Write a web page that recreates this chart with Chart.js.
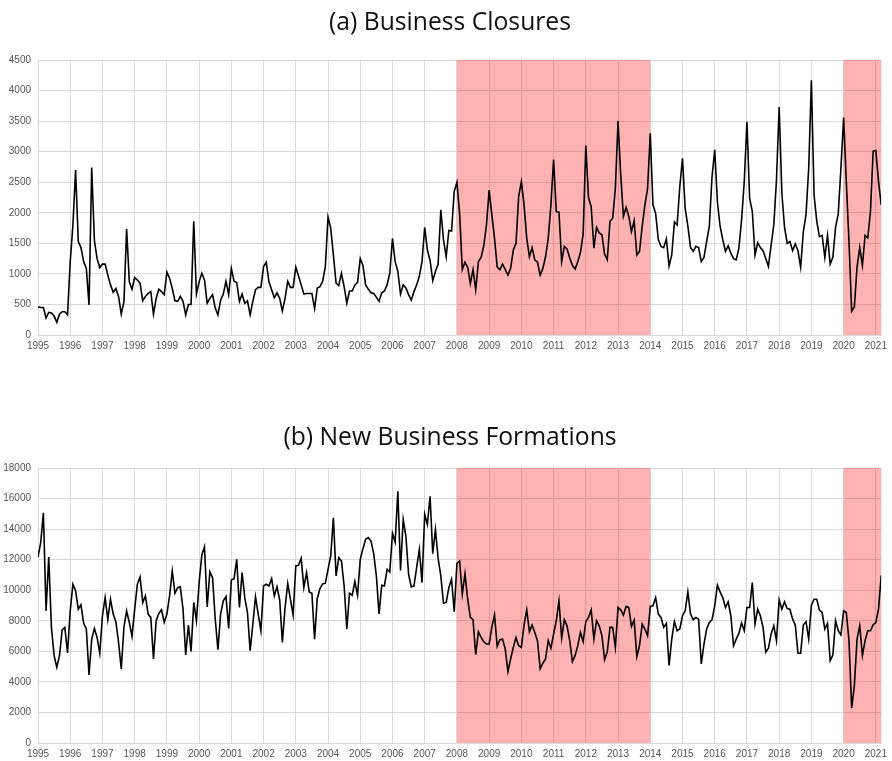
<!DOCTYPE html>
<html>
<head>
<meta charset="utf-8">
<script src="https://cdn.jsdelivr.net/npm/chart.js@4.4.1/dist/chart.umd.min.js"></script>
<style>
  html, body { margin: 0; padding: 0; background: #fff; overflow: hidden; }
  body { width: 892px; height: 761px; position: relative; }
  .panel { position: absolute; left: 0; width: 892px; height: 353px; }
  #p1 { top: 0; }
  #p2 { top: 408px; }
</style>
</head>
<body>
<div class="panel" id="p1"><canvas id="c1" width="892" height="353"></canvas></div>
<div class="panel" id="p2"><canvas id="c2" width="892" height="353"></canvas></div>
<script>
// Monthly series, January 1995 through March 2021
const startYear = 1995;

const yearTicks = [1995, 1996, 1997, 1998, 1999, 2000, 2001, 2002, 2003, 2004, 2005, 2006, 2007,
  2008, 2009, 2010, 2011, 2012, 2013, 2014, 2015, 2016, 2017, 2018, 2019, 2020, 2021];

// Shaded periods (decimal years)
const shadeStarts = [2008, 2020];
const shadeEnds = [2014, 2021 + 2 / 12];

const closures = [
  460, 450, 450, 280, 370, 360, 310, 210, 340, 380, 380, 330,
  1200, 1800, 2700, 1530, 1430, 1200, 1090, 490, 2740, 1550, 1250, 1100,
  1160, 1160, 980, 820, 700, 760, 630, 340, 540, 1740, 870, 750,
  940, 900, 850, 560, 630, 680, 710, 340, 600, 750, 710, 660,
  1030, 930, 760, 560, 550, 630, 550, 330, 500, 500, 1860, 670,
  870, 1010, 900, 520, 600, 660, 440, 330, 570, 670, 880, 660,
  1090, 880, 860, 550, 670, 520, 560, 330, 550, 740, 780, 780,
  1120, 1190, 870, 740, 610, 690, 600, 390, 600, 880, 780, 780,
  1110, 970, 820, 670, 680, 680, 680, 430, 770, 790, 880, 1120,
  1930, 1750, 1310, 850, 810, 1010, 790, 520, 720, 720, 820, 860,
  1250, 1140, 820, 750, 690, 680, 620, 550, 690, 720, 820, 1010,
  1580, 1200, 1040, 670, 820, 770, 660, 570, 710, 820, 960, 1200,
  1760, 1390, 1220, 890, 1040, 1160, 2050, 1560, 1280, 1710, 1700, 2350,
  2500, 1990, 1070, 1190, 1110, 840, 1070, 740, 1200, 1270, 1460, 1800,
  2370, 1970, 1580, 1110, 1070, 1160, 1070, 980, 1090, 1390, 1500, 2270,
  2510, 2130, 1580, 1280, 1430, 1230, 1190, 980, 1090, 1280, 1580, 2130,
  2870, 2020, 2010, 1200, 1450, 1410, 1260, 1140, 1080, 1200, 1350, 1650,
  3100, 2250, 2100, 1420, 1760, 1670, 1640, 1320, 1230, 1860, 1910, 2400,
  3500, 2620, 1940, 2090, 1940, 1690, 1870, 1310, 1370, 1780, 2130, 2400,
  3300, 2130, 1990, 1560, 1450, 1430, 1570, 1130, 1310, 1850, 1800, 2430,
  2890, 2070, 1780, 1430, 1370, 1450, 1430, 1200, 1270, 1530, 1780, 2590,
  3030, 2180, 1780, 1560, 1370, 1460, 1340, 1250, 1230, 1420, 1880, 2510,
  3490, 2240, 2020, 1310, 1510, 1430, 1380, 1250, 1120, 1470, 1800, 2540,
  3730, 2320, 1760, 1500, 1530, 1380, 1490, 1380, 1110, 1690, 1970, 2730,
  4170, 2290, 1860, 1610, 1630, 1270, 1630, 1160, 1270, 1760, 1980, 2730,
  3560, 2510, 1530, 390, 460, 1110, 1430, 1140, 1630, 1590, 2020, 3010,
  3020, 2510, 2130
];

const formations = [
  12170, 13110, 15070, 8650, 12170, 7570, 5720, 4960, 5720, 7410, 7570, 5890,
  8650, 10390, 9960, 8760, 9040, 7830, 7460, 4460, 6800, 7500, 6910, 5870,
  8330, 9520, 8070, 9410, 8440, 7940, 6590, 4850, 7570, 8650, 7890, 6980,
  8760, 10390, 10870, 9200, 9630, 8440, 8220, 5500, 8000, 8480, 8720, 7890,
  8440, 9630, 11260, 9800, 10170, 10220, 8760, 5760, 7720, 6000, 9200, 8000,
  10500, 12300, 12850, 8910, 11200, 10830, 8110, 6110, 8440, 9300, 9590, 7500,
  10670, 10760, 12020, 8870, 11150, 9520, 8540, 6040, 7780, 9570, 8440, 7350,
  10280, 10390, 10280, 10760, 9630, 10220, 9370, 6590, 8870, 10440, 9410, 8370,
  11590, 11630, 12090, 10170, 11150, 9890, 9800, 6800, 9460, 10110, 10410, 10460,
  11370, 12240, 14740, 10940, 12130, 11910, 10280, 7460, 9800, 9670, 10570, 9670,
  12020, 12720, 13330, 13440, 13220, 12410, 10940, 8440, 10330, 10280, 11370, 11200,
  13720, 13150, 16480, 11300, 14630, 13540, 11040, 10220, 10280, 11480, 12670, 10500,
  14960, 14300, 16150, 12390, 13980, 12090, 10940, 9150, 9200, 10170, 10720, 8590,
  11760, 11910, 9740, 11090, 9410, 8220, 8070, 5780, 7280, 6910, 6630, 6480,
  6480, 7570, 8390, 6330, 6760, 6800, 6150, 4670, 5500, 6260, 6910, 6370,
  6260, 7740, 8720, 7280, 7720, 7240, 6700, 4850, 5220, 5500, 6700, 6200,
  7130, 8000, 9300, 6870, 8070, 7670, 6700, 5330, 5720, 6370, 7240, 6630,
  7940, 8220, 8720, 6800, 8000, 7670, 7020, 5460, 5980, 7570, 7570, 6260,
  8870, 8720, 8370, 8940, 8870, 7630, 8040, 5650, 6370, 7780, 7460, 7020,
  8940, 8980, 9520, 8440, 8220, 7570, 7830, 5070, 6800, 7960, 7350, 7460,
  8330, 8650, 9890, 8440, 8070, 8220, 8110, 5170, 6480, 7460, 7890, 8070,
  8980, 10330, 9890, 9520, 8870, 9240, 8330, 6370, 6800, 7170, 7850, 7350,
  8870, 8870, 10500, 7780, 8760, 8330, 7570, 5940, 6200, 7130, 7670, 6700,
  9370, 8760, 9240, 8800, 8760, 8110, 7720, 5870, 5870, 7720, 7940, 6800,
  9020, 9410, 9410, 8700, 8540, 7460, 7830, 5390, 5760, 8000, 7350, 7070,
  8650, 8540, 6700, 2280, 3760, 6800, 7670, 5720, 6700, 7350, 7350, 7740,
  7890, 8760, 10980
];

const toPoints = arr => arr.map((v, i) => ({ x: startYear + i / 12, y: v }));

// Translucent red bands drawn over the grid, beneath the series line
const shadePlugin = {
  id: 'shadeBands',
  beforeDatasetsDraw(chart) {
    const { ctx, chartArea, scales } = chart;
    ctx.save();
    ctx.fillStyle = 'rgba(255, 0, 0, 0.30)';
    for (let k = 0; k < shadeStarts.length; k++) {
      const x0 = scales.x.getPixelForValue(shadeStarts[k]);
      const x1 = scales.x.getPixelForValue(shadeEnds[k]);
      ctx.fillRect(x0, chartArea.top, x1 - x0, chartArea.bottom - chartArea.top);
    }
    ctx.restore();
  }
};

// Panel heading, centred a little right of the canvas middle
const headingPlugin = {
  id: 'panelHeading',
  afterDraw(chart, args, opts) {
    const { ctx } = chart;
    ctx.save();
    ctx.font = "24.7px 'Open Sans', Lato, sans-serif";
    ctx.fillStyle = '#111';
    ctx.textAlign = 'center';
    ctx.textBaseline = 'middle';
    ctx.fillText(opts.text, opts.x, opts.y);
    ctx.restore();
  }
};

const tickFont = { family: "'Liberation Sans', Arial, sans-serif", size: 10 };
const gridColor = '#d9d9d9';

function makeChart(canvasId, titleText, titleY, values, yMax, yStep) {
  return new Chart(document.getElementById(canvasId), {
    type: 'line',
    data: {
      datasets: [{
        data: toPoints(values),
        borderColor: '#000',
        borderWidth: 1.6,
        pointRadius: 0,
        tension: 0,
        fill: false
      }]
    },
    options: {
      responsive: false,
      animation: false,
      events: [],
      layout: { padding: { left: 0, right: 6, top: 60, bottom: 0 } },
      plugins: {
        legend: { display: false },
        tooltip: { enabled: false },
        title: { display: false },
        panelHeading: { text: titleText, x: 450, y: titleY }
      },
      scales: {
        x: {
          type: 'linear',
          min: startYear,
          max: startYear + (values.length - 1) / 12,
          afterBuildTicks: s => { s.ticks = yearTicks.map(v => ({ value: v })); },
          afterFit: s => { s.height = 18; },
          ticks: {
            font: tickFont,
            color: '#555',
            padding: 5,
            maxRotation: 0,
            autoSkip: false,
            callback: v => String(v)
          },
          grid: { color: gridColor, drawTicks: false },
          border: { color: gridColor }
        },
        y: {
          min: 0,
          max: yMax,
          afterFit: s => { s.width = 38; },
          ticks: {
            stepSize: yStep,
            font: tickFont,
            color: '#555',
            padding: 7,
            callback: v => String(v)
          },
          grid: { color: gridColor, drawTicks: false },
          border: { color: gridColor }
        }
      }
    },
    plugins: [shadePlugin, headingPlugin]
  });
}

makeChart('c1', '(a) Business Closures', 23, closures, 4500, 500);
makeChart('c2', '(b) New Business Formations', 30, formations, 18000, 2000);
</script>
</body>
</html>
